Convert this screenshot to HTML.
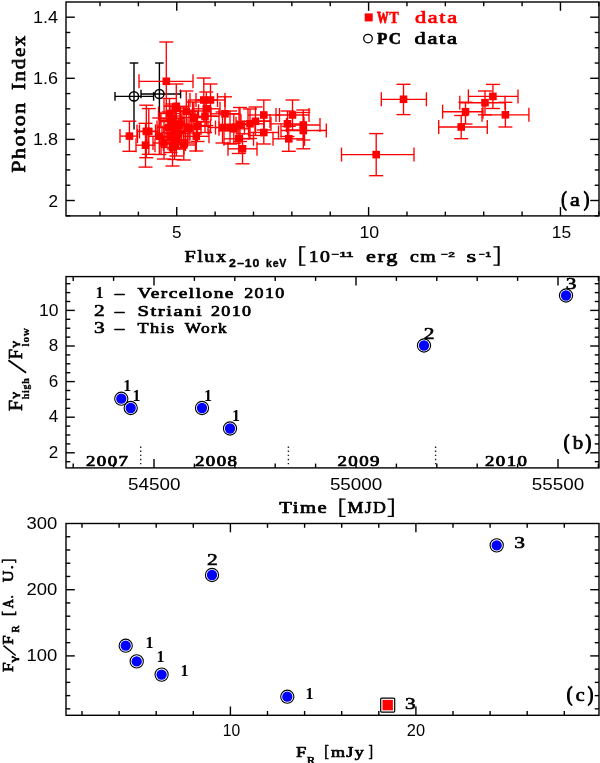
<!DOCTYPE html>
<html><head><meta charset="utf-8"><title>figure</title>
<style>
html,body{margin:0;padding:0;background:#fff;}
body{width:600px;height:763px;overflow:hidden;font-family:"Liberation Sans",sans-serif;}
svg{display:block;will-change:transform;}
</style></head>
<body>
<svg width="600" height="763" viewBox="0 0 600 763">
<rect x="0" y="0" width="600" height="763" fill="#fff"/>
<rect x="66.0" y="2.0" width="533.0" height="213.9" fill="none" stroke="#000" stroke-width="1.4"/>
<line x1="100.01" y1="215.90" x2="100.01" y2="211.60" stroke="#000" stroke-width="1.4"/>
<line x1="100.01" y1="2.00" x2="100.01" y2="6.30" stroke="#000" stroke-width="1.4"/>
<line x1="138.38" y1="215.90" x2="138.38" y2="211.60" stroke="#000" stroke-width="1.4"/>
<line x1="138.38" y1="2.00" x2="138.38" y2="6.30" stroke="#000" stroke-width="1.4"/>
<line x1="176.75" y1="215.90" x2="176.75" y2="207.10" stroke="#000" stroke-width="1.4"/>
<line x1="176.75" y1="2.00" x2="176.75" y2="10.80" stroke="#000" stroke-width="1.4"/>
<line x1="215.12" y1="215.90" x2="215.12" y2="211.60" stroke="#000" stroke-width="1.4"/>
<line x1="215.12" y1="2.00" x2="215.12" y2="6.30" stroke="#000" stroke-width="1.4"/>
<line x1="253.49" y1="215.90" x2="253.49" y2="211.60" stroke="#000" stroke-width="1.4"/>
<line x1="253.49" y1="2.00" x2="253.49" y2="6.30" stroke="#000" stroke-width="1.4"/>
<line x1="291.86" y1="215.90" x2="291.86" y2="211.60" stroke="#000" stroke-width="1.4"/>
<line x1="291.86" y1="2.00" x2="291.86" y2="6.30" stroke="#000" stroke-width="1.4"/>
<line x1="330.23" y1="215.90" x2="330.23" y2="211.60" stroke="#000" stroke-width="1.4"/>
<line x1="330.23" y1="2.00" x2="330.23" y2="6.30" stroke="#000" stroke-width="1.4"/>
<line x1="368.60" y1="215.90" x2="368.60" y2="207.10" stroke="#000" stroke-width="1.4"/>
<line x1="368.60" y1="2.00" x2="368.60" y2="10.80" stroke="#000" stroke-width="1.4"/>
<line x1="406.97" y1="215.90" x2="406.97" y2="211.60" stroke="#000" stroke-width="1.4"/>
<line x1="406.97" y1="2.00" x2="406.97" y2="6.30" stroke="#000" stroke-width="1.4"/>
<line x1="445.34" y1="215.90" x2="445.34" y2="211.60" stroke="#000" stroke-width="1.4"/>
<line x1="445.34" y1="2.00" x2="445.34" y2="6.30" stroke="#000" stroke-width="1.4"/>
<line x1="483.71" y1="215.90" x2="483.71" y2="211.60" stroke="#000" stroke-width="1.4"/>
<line x1="483.71" y1="2.00" x2="483.71" y2="6.30" stroke="#000" stroke-width="1.4"/>
<line x1="522.08" y1="215.90" x2="522.08" y2="211.60" stroke="#000" stroke-width="1.4"/>
<line x1="522.08" y1="2.00" x2="522.08" y2="6.30" stroke="#000" stroke-width="1.4"/>
<line x1="560.45" y1="215.90" x2="560.45" y2="207.10" stroke="#000" stroke-width="1.4"/>
<line x1="560.45" y1="2.00" x2="560.45" y2="10.80" stroke="#000" stroke-width="1.4"/>
<line x1="598.82" y1="215.90" x2="598.82" y2="211.60" stroke="#000" stroke-width="1.4"/>
<line x1="598.82" y1="2.00" x2="598.82" y2="6.30" stroke="#000" stroke-width="1.4"/>
<line x1="66.00" y1="17.20" x2="74.80" y2="17.20" stroke="#000" stroke-width="1.4"/>
<line x1="599.00" y1="17.20" x2="590.20" y2="17.20" stroke="#000" stroke-width="1.4"/>
<line x1="66.00" y1="32.48" x2="70.30" y2="32.48" stroke="#000" stroke-width="1.4"/>
<line x1="599.00" y1="32.48" x2="594.70" y2="32.48" stroke="#000" stroke-width="1.4"/>
<line x1="66.00" y1="47.75" x2="70.30" y2="47.75" stroke="#000" stroke-width="1.4"/>
<line x1="599.00" y1="47.75" x2="594.70" y2="47.75" stroke="#000" stroke-width="1.4"/>
<line x1="66.00" y1="63.03" x2="70.30" y2="63.03" stroke="#000" stroke-width="1.4"/>
<line x1="599.00" y1="63.03" x2="594.70" y2="63.03" stroke="#000" stroke-width="1.4"/>
<line x1="66.00" y1="78.30" x2="74.80" y2="78.30" stroke="#000" stroke-width="1.4"/>
<line x1="599.00" y1="78.30" x2="590.20" y2="78.30" stroke="#000" stroke-width="1.4"/>
<line x1="66.00" y1="93.58" x2="70.30" y2="93.58" stroke="#000" stroke-width="1.4"/>
<line x1="599.00" y1="93.58" x2="594.70" y2="93.58" stroke="#000" stroke-width="1.4"/>
<line x1="66.00" y1="108.85" x2="70.30" y2="108.85" stroke="#000" stroke-width="1.4"/>
<line x1="599.00" y1="108.85" x2="594.70" y2="108.85" stroke="#000" stroke-width="1.4"/>
<line x1="66.00" y1="124.13" x2="70.30" y2="124.13" stroke="#000" stroke-width="1.4"/>
<line x1="599.00" y1="124.13" x2="594.70" y2="124.13" stroke="#000" stroke-width="1.4"/>
<line x1="66.00" y1="139.40" x2="74.80" y2="139.40" stroke="#000" stroke-width="1.4"/>
<line x1="599.00" y1="139.40" x2="590.20" y2="139.40" stroke="#000" stroke-width="1.4"/>
<line x1="66.00" y1="154.68" x2="70.30" y2="154.68" stroke="#000" stroke-width="1.4"/>
<line x1="599.00" y1="154.68" x2="594.70" y2="154.68" stroke="#000" stroke-width="1.4"/>
<line x1="66.00" y1="169.95" x2="70.30" y2="169.95" stroke="#000" stroke-width="1.4"/>
<line x1="599.00" y1="169.95" x2="594.70" y2="169.95" stroke="#000" stroke-width="1.4"/>
<line x1="66.00" y1="185.23" x2="70.30" y2="185.23" stroke="#000" stroke-width="1.4"/>
<line x1="599.00" y1="185.23" x2="594.70" y2="185.23" stroke="#000" stroke-width="1.4"/>
<line x1="66.00" y1="200.50" x2="74.80" y2="200.50" stroke="#000" stroke-width="1.4"/>
<line x1="599.00" y1="200.50" x2="590.20" y2="200.50" stroke="#000" stroke-width="1.4"/>
<line x1="66.00" y1="215.78" x2="70.30" y2="215.78" stroke="#000" stroke-width="1.4"/>
<line x1="599.00" y1="215.78" x2="594.70" y2="215.78" stroke="#000" stroke-width="1.4"/>
<line x1="115.00" y1="96.40" x2="153.60" y2="96.40" stroke="#000" stroke-width="1.4"/>
<line x1="134.00" y1="63.00" x2="134.00" y2="129.50" stroke="#000" stroke-width="1.4"/>
<line x1="115.00" y1="92.10" x2="115.00" y2="100.70" stroke="#000" stroke-width="1.4"/>
<line x1="153.60" y1="92.10" x2="153.60" y2="100.70" stroke="#000" stroke-width="1.4"/>
<line x1="129.70" y1="63.00" x2="138.30" y2="63.00" stroke="#000" stroke-width="1.4"/>
<circle cx="134.0" cy="96.4" r="4.6" fill="none" stroke="#000" stroke-width="1.5"/>
<line x1="141.00" y1="94.00" x2="180.60" y2="94.00" stroke="#000" stroke-width="1.4"/>
<line x1="159.40" y1="63.00" x2="159.40" y2="125.00" stroke="#000" stroke-width="1.4"/>
<line x1="141.00" y1="89.70" x2="141.00" y2="98.30" stroke="#000" stroke-width="1.4"/>
<line x1="180.60" y1="89.70" x2="180.60" y2="98.30" stroke="#000" stroke-width="1.4"/>
<line x1="155.10" y1="63.00" x2="163.70" y2="63.00" stroke="#000" stroke-width="1.4"/>
<circle cx="159.4" cy="94.0" r="4.6" fill="none" stroke="#000" stroke-width="1.5"/>
<line x1="341.50" y1="154.60" x2="414.00" y2="154.60" stroke="#ff0000" stroke-width="1.35"/>
<line x1="376.20" y1="133.60" x2="376.20" y2="175.70" stroke="#ff0000" stroke-width="1.35"/>
<line x1="341.50" y1="147.60" x2="341.50" y2="161.60" stroke="#ff0000" stroke-width="1.35"/>
<line x1="414.00" y1="147.60" x2="414.00" y2="161.60" stroke="#ff0000" stroke-width="1.35"/>
<line x1="369.20" y1="133.60" x2="383.20" y2="133.60" stroke="#ff0000" stroke-width="1.35"/>
<line x1="369.20" y1="175.70" x2="383.20" y2="175.70" stroke="#ff0000" stroke-width="1.35"/>
<line x1="381.30" y1="99.30" x2="426.40" y2="99.30" stroke="#ff0000" stroke-width="1.35"/>
<line x1="403.50" y1="84.30" x2="403.50" y2="114.60" stroke="#ff0000" stroke-width="1.35"/>
<line x1="381.30" y1="92.30" x2="381.30" y2="106.30" stroke="#ff0000" stroke-width="1.35"/>
<line x1="426.40" y1="92.30" x2="426.40" y2="106.30" stroke="#ff0000" stroke-width="1.35"/>
<line x1="396.50" y1="84.30" x2="410.50" y2="84.30" stroke="#ff0000" stroke-width="1.35"/>
<line x1="396.50" y1="114.60" x2="410.50" y2="114.60" stroke="#ff0000" stroke-width="1.35"/>
<line x1="438.70" y1="127.00" x2="487.30" y2="127.00" stroke="#ff0000" stroke-width="1.35"/>
<line x1="461.20" y1="115.50" x2="461.20" y2="138.70" stroke="#ff0000" stroke-width="1.35"/>
<line x1="438.70" y1="120.00" x2="438.70" y2="134.00" stroke="#ff0000" stroke-width="1.35"/>
<line x1="487.30" y1="120.00" x2="487.30" y2="134.00" stroke="#ff0000" stroke-width="1.35"/>
<line x1="454.20" y1="115.50" x2="468.20" y2="115.50" stroke="#ff0000" stroke-width="1.35"/>
<line x1="454.20" y1="138.70" x2="468.20" y2="138.70" stroke="#ff0000" stroke-width="1.35"/>
<line x1="442.60" y1="111.70" x2="483.00" y2="111.70" stroke="#ff0000" stroke-width="1.35"/>
<line x1="465.50" y1="102.20" x2="465.50" y2="124.00" stroke="#ff0000" stroke-width="1.35"/>
<line x1="442.60" y1="104.70" x2="442.60" y2="118.70" stroke="#ff0000" stroke-width="1.35"/>
<line x1="483.00" y1="104.70" x2="483.00" y2="118.70" stroke="#ff0000" stroke-width="1.35"/>
<line x1="458.50" y1="102.20" x2="472.50" y2="102.20" stroke="#ff0000" stroke-width="1.35"/>
<line x1="458.50" y1="124.00" x2="472.50" y2="124.00" stroke="#ff0000" stroke-width="1.35"/>
<line x1="459.80" y1="102.70" x2="505.00" y2="102.70" stroke="#ff0000" stroke-width="1.35"/>
<line x1="485.00" y1="91.00" x2="485.00" y2="114.80" stroke="#ff0000" stroke-width="1.35"/>
<line x1="459.80" y1="95.70" x2="459.80" y2="109.70" stroke="#ff0000" stroke-width="1.35"/>
<line x1="505.00" y1="95.70" x2="505.00" y2="109.70" stroke="#ff0000" stroke-width="1.35"/>
<line x1="478.00" y1="91.00" x2="492.00" y2="91.00" stroke="#ff0000" stroke-width="1.35"/>
<line x1="478.00" y1="114.80" x2="492.00" y2="114.80" stroke="#ff0000" stroke-width="1.35"/>
<line x1="468.40" y1="96.40" x2="518.00" y2="96.40" stroke="#ff0000" stroke-width="1.35"/>
<line x1="492.90" y1="84.40" x2="492.90" y2="108.50" stroke="#ff0000" stroke-width="1.35"/>
<line x1="468.40" y1="89.40" x2="468.40" y2="103.40" stroke="#ff0000" stroke-width="1.35"/>
<line x1="518.00" y1="89.40" x2="518.00" y2="103.40" stroke="#ff0000" stroke-width="1.35"/>
<line x1="485.90" y1="84.40" x2="499.90" y2="84.40" stroke="#ff0000" stroke-width="1.35"/>
<line x1="485.90" y1="108.50" x2="499.90" y2="108.50" stroke="#ff0000" stroke-width="1.35"/>
<line x1="482.00" y1="114.80" x2="528.90" y2="114.80" stroke="#ff0000" stroke-width="1.35"/>
<line x1="505.40" y1="102.30" x2="505.40" y2="127.00" stroke="#ff0000" stroke-width="1.35"/>
<line x1="482.00" y1="107.80" x2="482.00" y2="121.80" stroke="#ff0000" stroke-width="1.35"/>
<line x1="528.90" y1="107.80" x2="528.90" y2="121.80" stroke="#ff0000" stroke-width="1.35"/>
<line x1="498.40" y1="102.30" x2="512.40" y2="102.30" stroke="#ff0000" stroke-width="1.35"/>
<line x1="498.40" y1="127.00" x2="512.40" y2="127.00" stroke="#ff0000" stroke-width="1.35"/>
<line x1="139.00" y1="81.30" x2="193.00" y2="81.30" stroke="#ff0000" stroke-width="1.35"/>
<line x1="166.30" y1="42.00" x2="166.30" y2="120.50" stroke="#ff0000" stroke-width="1.35"/>
<line x1="139.00" y1="74.30" x2="139.00" y2="88.30" stroke="#ff0000" stroke-width="1.35"/>
<line x1="193.00" y1="74.30" x2="193.00" y2="88.30" stroke="#ff0000" stroke-width="1.35"/>
<line x1="159.30" y1="42.00" x2="173.30" y2="42.00" stroke="#ff0000" stroke-width="1.35"/>
<line x1="159.30" y1="120.50" x2="173.30" y2="120.50" stroke="#ff0000" stroke-width="1.35"/>
<line x1="120.00" y1="136.10" x2="137.50" y2="136.10" stroke="#ff0000" stroke-width="1.35"/>
<line x1="129.40" y1="121.20" x2="129.40" y2="151.30" stroke="#ff0000" stroke-width="1.35"/>
<line x1="120.00" y1="129.10" x2="120.00" y2="143.10" stroke="#ff0000" stroke-width="1.35"/>
<line x1="137.50" y1="129.10" x2="137.50" y2="143.10" stroke="#ff0000" stroke-width="1.35"/>
<line x1="122.40" y1="121.20" x2="136.40" y2="121.20" stroke="#ff0000" stroke-width="1.35"/>
<line x1="122.40" y1="151.30" x2="136.40" y2="151.30" stroke="#ff0000" stroke-width="1.35"/>
<line x1="137.00" y1="131.40" x2="155.50" y2="131.40" stroke="#ff0000" stroke-width="1.35"/>
<line x1="146.30" y1="105.20" x2="146.30" y2="157.70" stroke="#ff0000" stroke-width="1.35"/>
<line x1="137.00" y1="124.40" x2="137.00" y2="138.40" stroke="#ff0000" stroke-width="1.35"/>
<line x1="155.50" y1="124.40" x2="155.50" y2="138.40" stroke="#ff0000" stroke-width="1.35"/>
<line x1="139.30" y1="105.20" x2="153.30" y2="105.20" stroke="#ff0000" stroke-width="1.35"/>
<line x1="139.30" y1="157.70" x2="153.30" y2="157.70" stroke="#ff0000" stroke-width="1.35"/>
<line x1="139.50" y1="131.40" x2="158.00" y2="131.40" stroke="#ff0000" stroke-width="1.35"/>
<line x1="148.80" y1="108.60" x2="148.80" y2="154.30" stroke="#ff0000" stroke-width="1.35"/>
<line x1="139.50" y1="124.40" x2="139.50" y2="138.40" stroke="#ff0000" stroke-width="1.35"/>
<line x1="158.00" y1="124.40" x2="158.00" y2="138.40" stroke="#ff0000" stroke-width="1.35"/>
<line x1="141.80" y1="108.60" x2="155.80" y2="108.60" stroke="#ff0000" stroke-width="1.35"/>
<line x1="141.80" y1="154.30" x2="155.80" y2="154.30" stroke="#ff0000" stroke-width="1.35"/>
<line x1="136.00" y1="145.20" x2="155.00" y2="145.20" stroke="#ff0000" stroke-width="1.35"/>
<line x1="145.50" y1="123.30" x2="145.50" y2="167.10" stroke="#ff0000" stroke-width="1.35"/>
<line x1="136.00" y1="138.20" x2="136.00" y2="152.20" stroke="#ff0000" stroke-width="1.35"/>
<line x1="155.00" y1="138.20" x2="155.00" y2="152.20" stroke="#ff0000" stroke-width="1.35"/>
<line x1="138.50" y1="123.30" x2="152.50" y2="123.30" stroke="#ff0000" stroke-width="1.35"/>
<line x1="138.50" y1="167.10" x2="152.50" y2="167.10" stroke="#ff0000" stroke-width="1.35"/>
<line x1="148.00" y1="136.30" x2="170.50" y2="136.30" stroke="#ff0000" stroke-width="1.35"/>
<line x1="159.30" y1="118.00" x2="159.30" y2="154.50" stroke="#ff0000" stroke-width="1.35"/>
<line x1="148.00" y1="129.30" x2="148.00" y2="143.30" stroke="#ff0000" stroke-width="1.35"/>
<line x1="170.50" y1="129.30" x2="170.50" y2="143.30" stroke="#ff0000" stroke-width="1.35"/>
<line x1="152.30" y1="118.00" x2="166.30" y2="118.00" stroke="#ff0000" stroke-width="1.35"/>
<line x1="152.30" y1="154.50" x2="166.30" y2="154.50" stroke="#ff0000" stroke-width="1.35"/>
<line x1="161.00" y1="118.80" x2="184.00" y2="118.80" stroke="#ff0000" stroke-width="1.35"/>
<line x1="172.50" y1="104.00" x2="172.50" y2="133.50" stroke="#ff0000" stroke-width="1.35"/>
<line x1="161.00" y1="111.80" x2="161.00" y2="125.80" stroke="#ff0000" stroke-width="1.35"/>
<line x1="184.00" y1="111.80" x2="184.00" y2="125.80" stroke="#ff0000" stroke-width="1.35"/>
<line x1="165.50" y1="104.00" x2="179.50" y2="104.00" stroke="#ff0000" stroke-width="1.35"/>
<line x1="165.50" y1="133.50" x2="179.50" y2="133.50" stroke="#ff0000" stroke-width="1.35"/>
<line x1="157.00" y1="127.50" x2="180.50" y2="127.50" stroke="#ff0000" stroke-width="1.35"/>
<line x1="168.80" y1="112.00" x2="168.80" y2="143.00" stroke="#ff0000" stroke-width="1.35"/>
<line x1="157.00" y1="120.50" x2="157.00" y2="134.50" stroke="#ff0000" stroke-width="1.35"/>
<line x1="180.50" y1="120.50" x2="180.50" y2="134.50" stroke="#ff0000" stroke-width="1.35"/>
<line x1="161.80" y1="112.00" x2="175.80" y2="112.00" stroke="#ff0000" stroke-width="1.35"/>
<line x1="161.80" y1="143.00" x2="175.80" y2="143.00" stroke="#ff0000" stroke-width="1.35"/>
<line x1="162.00" y1="132.50" x2="185.50" y2="132.50" stroke="#ff0000" stroke-width="1.35"/>
<line x1="173.80" y1="116.00" x2="173.80" y2="149.00" stroke="#ff0000" stroke-width="1.35"/>
<line x1="162.00" y1="125.50" x2="162.00" y2="139.50" stroke="#ff0000" stroke-width="1.35"/>
<line x1="185.50" y1="125.50" x2="185.50" y2="139.50" stroke="#ff0000" stroke-width="1.35"/>
<line x1="166.80" y1="116.00" x2="180.80" y2="116.00" stroke="#ff0000" stroke-width="1.35"/>
<line x1="166.80" y1="149.00" x2="180.80" y2="149.00" stroke="#ff0000" stroke-width="1.35"/>
<line x1="161.00" y1="147.50" x2="184.00" y2="147.50" stroke="#ff0000" stroke-width="1.35"/>
<line x1="172.50" y1="129.00" x2="172.50" y2="166.00" stroke="#ff0000" stroke-width="1.35"/>
<line x1="161.00" y1="140.50" x2="161.00" y2="154.50" stroke="#ff0000" stroke-width="1.35"/>
<line x1="184.00" y1="140.50" x2="184.00" y2="154.50" stroke="#ff0000" stroke-width="1.35"/>
<line x1="165.50" y1="129.00" x2="179.50" y2="129.00" stroke="#ff0000" stroke-width="1.35"/>
<line x1="165.50" y1="166.00" x2="179.50" y2="166.00" stroke="#ff0000" stroke-width="1.35"/>
<line x1="165.00" y1="140.00" x2="187.50" y2="140.00" stroke="#ff0000" stroke-width="1.35"/>
<line x1="176.30" y1="124.00" x2="176.30" y2="156.00" stroke="#ff0000" stroke-width="1.35"/>
<line x1="165.00" y1="133.00" x2="165.00" y2="147.00" stroke="#ff0000" stroke-width="1.35"/>
<line x1="187.50" y1="133.00" x2="187.50" y2="147.00" stroke="#ff0000" stroke-width="1.35"/>
<line x1="169.30" y1="124.00" x2="183.30" y2="124.00" stroke="#ff0000" stroke-width="1.35"/>
<line x1="169.30" y1="156.00" x2="183.30" y2="156.00" stroke="#ff0000" stroke-width="1.35"/>
<line x1="172.00" y1="145.00" x2="195.50" y2="145.00" stroke="#ff0000" stroke-width="1.35"/>
<line x1="183.80" y1="130.00" x2="183.80" y2="160.00" stroke="#ff0000" stroke-width="1.35"/>
<line x1="172.00" y1="138.00" x2="172.00" y2="152.00" stroke="#ff0000" stroke-width="1.35"/>
<line x1="195.50" y1="138.00" x2="195.50" y2="152.00" stroke="#ff0000" stroke-width="1.35"/>
<line x1="176.80" y1="130.00" x2="190.80" y2="130.00" stroke="#ff0000" stroke-width="1.35"/>
<line x1="176.80" y1="160.00" x2="190.80" y2="160.00" stroke="#ff0000" stroke-width="1.35"/>
<line x1="174.00" y1="111.30" x2="198.50" y2="111.30" stroke="#ff0000" stroke-width="1.35"/>
<line x1="186.30" y1="91.00" x2="186.30" y2="131.50" stroke="#ff0000" stroke-width="1.35"/>
<line x1="174.00" y1="104.30" x2="174.00" y2="118.30" stroke="#ff0000" stroke-width="1.35"/>
<line x1="198.50" y1="104.30" x2="198.50" y2="118.30" stroke="#ff0000" stroke-width="1.35"/>
<line x1="179.30" y1="91.00" x2="193.30" y2="91.00" stroke="#ff0000" stroke-width="1.35"/>
<line x1="179.30" y1="131.50" x2="193.30" y2="131.50" stroke="#ff0000" stroke-width="1.35"/>
<line x1="181.00" y1="117.50" x2="206.50" y2="117.50" stroke="#ff0000" stroke-width="1.35"/>
<line x1="193.80" y1="102.00" x2="193.80" y2="133.00" stroke="#ff0000" stroke-width="1.35"/>
<line x1="181.00" y1="110.50" x2="181.00" y2="124.50" stroke="#ff0000" stroke-width="1.35"/>
<line x1="206.50" y1="110.50" x2="206.50" y2="124.50" stroke="#ff0000" stroke-width="1.35"/>
<line x1="186.80" y1="102.00" x2="200.80" y2="102.00" stroke="#ff0000" stroke-width="1.35"/>
<line x1="186.80" y1="133.00" x2="200.80" y2="133.00" stroke="#ff0000" stroke-width="1.35"/>
<line x1="183.50" y1="136.30" x2="209.00" y2="136.30" stroke="#ff0000" stroke-width="1.35"/>
<line x1="196.30" y1="121.50" x2="196.30" y2="151.00" stroke="#ff0000" stroke-width="1.35"/>
<line x1="183.50" y1="129.30" x2="183.50" y2="143.30" stroke="#ff0000" stroke-width="1.35"/>
<line x1="209.00" y1="129.30" x2="209.00" y2="143.30" stroke="#ff0000" stroke-width="1.35"/>
<line x1="189.30" y1="121.50" x2="203.30" y2="121.50" stroke="#ff0000" stroke-width="1.35"/>
<line x1="189.30" y1="151.00" x2="203.30" y2="151.00" stroke="#ff0000" stroke-width="1.35"/>
<line x1="184.50" y1="126.30" x2="210.50" y2="126.30" stroke="#ff0000" stroke-width="1.35"/>
<line x1="197.50" y1="111.00" x2="197.50" y2="141.50" stroke="#ff0000" stroke-width="1.35"/>
<line x1="184.50" y1="119.30" x2="184.50" y2="133.30" stroke="#ff0000" stroke-width="1.35"/>
<line x1="210.50" y1="119.30" x2="210.50" y2="133.30" stroke="#ff0000" stroke-width="1.35"/>
<line x1="190.50" y1="111.00" x2="204.50" y2="111.00" stroke="#ff0000" stroke-width="1.35"/>
<line x1="190.50" y1="141.50" x2="204.50" y2="141.50" stroke="#ff0000" stroke-width="1.35"/>
<line x1="190.00" y1="100.00" x2="217.50" y2="100.00" stroke="#ff0000" stroke-width="1.35"/>
<line x1="203.80" y1="78.00" x2="203.80" y2="122.00" stroke="#ff0000" stroke-width="1.35"/>
<line x1="190.00" y1="93.00" x2="190.00" y2="107.00" stroke="#ff0000" stroke-width="1.35"/>
<line x1="217.50" y1="93.00" x2="217.50" y2="107.00" stroke="#ff0000" stroke-width="1.35"/>
<line x1="196.80" y1="78.00" x2="210.80" y2="78.00" stroke="#ff0000" stroke-width="1.35"/>
<line x1="196.80" y1="122.00" x2="210.80" y2="122.00" stroke="#ff0000" stroke-width="1.35"/>
<line x1="196.00" y1="100.00" x2="225.00" y2="100.00" stroke="#ff0000" stroke-width="1.35"/>
<line x1="210.50" y1="84.00" x2="210.50" y2="116.00" stroke="#ff0000" stroke-width="1.35"/>
<line x1="196.00" y1="93.00" x2="196.00" y2="107.00" stroke="#ff0000" stroke-width="1.35"/>
<line x1="225.00" y1="93.00" x2="225.00" y2="107.00" stroke="#ff0000" stroke-width="1.35"/>
<line x1="203.50" y1="84.00" x2="217.50" y2="84.00" stroke="#ff0000" stroke-width="1.35"/>
<line x1="203.50" y1="116.00" x2="217.50" y2="116.00" stroke="#ff0000" stroke-width="1.35"/>
<line x1="192.50" y1="108.80" x2="220.00" y2="108.80" stroke="#ff0000" stroke-width="1.35"/>
<line x1="206.30" y1="92.00" x2="206.30" y2="125.50" stroke="#ff0000" stroke-width="1.35"/>
<line x1="192.50" y1="101.80" x2="192.50" y2="115.80" stroke="#ff0000" stroke-width="1.35"/>
<line x1="220.00" y1="101.80" x2="220.00" y2="115.80" stroke="#ff0000" stroke-width="1.35"/>
<line x1="199.30" y1="92.00" x2="213.30" y2="92.00" stroke="#ff0000" stroke-width="1.35"/>
<line x1="199.30" y1="125.50" x2="213.30" y2="125.50" stroke="#ff0000" stroke-width="1.35"/>
<line x1="191.00" y1="116.30" x2="219.00" y2="116.30" stroke="#ff0000" stroke-width="1.35"/>
<line x1="205.00" y1="100.00" x2="205.00" y2="132.50" stroke="#ff0000" stroke-width="1.35"/>
<line x1="191.00" y1="109.30" x2="191.00" y2="123.30" stroke="#ff0000" stroke-width="1.35"/>
<line x1="219.00" y1="109.30" x2="219.00" y2="123.30" stroke="#ff0000" stroke-width="1.35"/>
<line x1="198.00" y1="100.00" x2="212.00" y2="100.00" stroke="#ff0000" stroke-width="1.35"/>
<line x1="198.00" y1="132.50" x2="212.00" y2="132.50" stroke="#ff0000" stroke-width="1.35"/>
<line x1="164.00" y1="106.30" x2="188.50" y2="106.30" stroke="#ff0000" stroke-width="1.35"/>
<line x1="176.30" y1="84.00" x2="176.30" y2="128.50" stroke="#ff0000" stroke-width="1.35"/>
<line x1="164.00" y1="99.30" x2="164.00" y2="113.30" stroke="#ff0000" stroke-width="1.35"/>
<line x1="188.50" y1="99.30" x2="188.50" y2="113.30" stroke="#ff0000" stroke-width="1.35"/>
<line x1="169.30" y1="84.00" x2="183.30" y2="84.00" stroke="#ff0000" stroke-width="1.35"/>
<line x1="169.30" y1="128.50" x2="183.30" y2="128.50" stroke="#ff0000" stroke-width="1.35"/>
<line x1="168.00" y1="124.00" x2="192.00" y2="124.00" stroke="#ff0000" stroke-width="1.35"/>
<line x1="180.00" y1="108.00" x2="180.00" y2="140.00" stroke="#ff0000" stroke-width="1.35"/>
<line x1="168.00" y1="117.00" x2="168.00" y2="131.00" stroke="#ff0000" stroke-width="1.35"/>
<line x1="192.00" y1="117.00" x2="192.00" y2="131.00" stroke="#ff0000" stroke-width="1.35"/>
<line x1="173.00" y1="108.00" x2="187.00" y2="108.00" stroke="#ff0000" stroke-width="1.35"/>
<line x1="173.00" y1="140.00" x2="187.00" y2="140.00" stroke="#ff0000" stroke-width="1.35"/>
<line x1="153.00" y1="143.00" x2="175.00" y2="143.00" stroke="#ff0000" stroke-width="1.35"/>
<line x1="164.00" y1="127.00" x2="164.00" y2="159.00" stroke="#ff0000" stroke-width="1.35"/>
<line x1="153.00" y1="136.00" x2="153.00" y2="150.00" stroke="#ff0000" stroke-width="1.35"/>
<line x1="175.00" y1="136.00" x2="175.00" y2="150.00" stroke="#ff0000" stroke-width="1.35"/>
<line x1="157.00" y1="127.00" x2="171.00" y2="127.00" stroke="#ff0000" stroke-width="1.35"/>
<line x1="157.00" y1="159.00" x2="171.00" y2="159.00" stroke="#ff0000" stroke-width="1.35"/>
<line x1="177.00" y1="128.00" x2="201.00" y2="128.00" stroke="#ff0000" stroke-width="1.35"/>
<line x1="189.00" y1="113.00" x2="189.00" y2="143.00" stroke="#ff0000" stroke-width="1.35"/>
<line x1="177.00" y1="121.00" x2="177.00" y2="135.00" stroke="#ff0000" stroke-width="1.35"/>
<line x1="201.00" y1="121.00" x2="201.00" y2="135.00" stroke="#ff0000" stroke-width="1.35"/>
<line x1="182.00" y1="113.00" x2="196.00" y2="113.00" stroke="#ff0000" stroke-width="1.35"/>
<line x1="182.00" y1="143.00" x2="196.00" y2="143.00" stroke="#ff0000" stroke-width="1.35"/>
<line x1="160.00" y1="121.50" x2="182.00" y2="121.50" stroke="#ff0000" stroke-width="1.35"/>
<line x1="171.00" y1="106.00" x2="171.00" y2="137.00" stroke="#ff0000" stroke-width="1.35"/>
<line x1="160.00" y1="114.50" x2="160.00" y2="128.50" stroke="#ff0000" stroke-width="1.35"/>
<line x1="182.00" y1="114.50" x2="182.00" y2="128.50" stroke="#ff0000" stroke-width="1.35"/>
<line x1="164.00" y1="106.00" x2="178.00" y2="106.00" stroke="#ff0000" stroke-width="1.35"/>
<line x1="164.00" y1="137.00" x2="178.00" y2="137.00" stroke="#ff0000" stroke-width="1.35"/>
<line x1="164.00" y1="125.50" x2="187.00" y2="125.50" stroke="#ff0000" stroke-width="1.35"/>
<line x1="175.50" y1="110.50" x2="175.50" y2="140.50" stroke="#ff0000" stroke-width="1.35"/>
<line x1="164.00" y1="118.50" x2="164.00" y2="132.50" stroke="#ff0000" stroke-width="1.35"/>
<line x1="187.00" y1="118.50" x2="187.00" y2="132.50" stroke="#ff0000" stroke-width="1.35"/>
<line x1="168.50" y1="110.50" x2="182.50" y2="110.50" stroke="#ff0000" stroke-width="1.35"/>
<line x1="168.50" y1="140.50" x2="182.50" y2="140.50" stroke="#ff0000" stroke-width="1.35"/>
<line x1="159.50" y1="137.00" x2="181.50" y2="137.00" stroke="#ff0000" stroke-width="1.35"/>
<line x1="170.50" y1="121.50" x2="170.50" y2="152.50" stroke="#ff0000" stroke-width="1.35"/>
<line x1="159.50" y1="130.00" x2="159.50" y2="144.00" stroke="#ff0000" stroke-width="1.35"/>
<line x1="181.50" y1="130.00" x2="181.50" y2="144.00" stroke="#ff0000" stroke-width="1.35"/>
<line x1="163.50" y1="121.50" x2="177.50" y2="121.50" stroke="#ff0000" stroke-width="1.35"/>
<line x1="163.50" y1="152.50" x2="177.50" y2="152.50" stroke="#ff0000" stroke-width="1.35"/>
<line x1="163.50" y1="144.00" x2="185.50" y2="144.00" stroke="#ff0000" stroke-width="1.35"/>
<line x1="174.50" y1="128.50" x2="174.50" y2="159.50" stroke="#ff0000" stroke-width="1.35"/>
<line x1="163.50" y1="137.00" x2="163.50" y2="151.00" stroke="#ff0000" stroke-width="1.35"/>
<line x1="185.50" y1="137.00" x2="185.50" y2="151.00" stroke="#ff0000" stroke-width="1.35"/>
<line x1="167.50" y1="128.50" x2="181.50" y2="128.50" stroke="#ff0000" stroke-width="1.35"/>
<line x1="167.50" y1="159.50" x2="181.50" y2="159.50" stroke="#ff0000" stroke-width="1.35"/>
<line x1="167.00" y1="133.50" x2="190.00" y2="133.50" stroke="#ff0000" stroke-width="1.35"/>
<line x1="178.50" y1="118.00" x2="178.50" y2="149.00" stroke="#ff0000" stroke-width="1.35"/>
<line x1="167.00" y1="126.50" x2="167.00" y2="140.50" stroke="#ff0000" stroke-width="1.35"/>
<line x1="190.00" y1="126.50" x2="190.00" y2="140.50" stroke="#ff0000" stroke-width="1.35"/>
<line x1="171.50" y1="118.00" x2="185.50" y2="118.00" stroke="#ff0000" stroke-width="1.35"/>
<line x1="171.50" y1="149.00" x2="185.50" y2="149.00" stroke="#ff0000" stroke-width="1.35"/>
<line x1="158.50" y1="113.50" x2="180.50" y2="113.50" stroke="#ff0000" stroke-width="1.35"/>
<line x1="169.50" y1="98.50" x2="169.50" y2="128.50" stroke="#ff0000" stroke-width="1.35"/>
<line x1="158.50" y1="106.50" x2="158.50" y2="120.50" stroke="#ff0000" stroke-width="1.35"/>
<line x1="180.50" y1="106.50" x2="180.50" y2="120.50" stroke="#ff0000" stroke-width="1.35"/>
<line x1="162.50" y1="98.50" x2="176.50" y2="98.50" stroke="#ff0000" stroke-width="1.35"/>
<line x1="162.50" y1="128.50" x2="176.50" y2="128.50" stroke="#ff0000" stroke-width="1.35"/>
<line x1="211.00" y1="113.80" x2="239.00" y2="113.80" stroke="#ff0000" stroke-width="1.35"/>
<line x1="225.00" y1="96.80" x2="225.00" y2="130.80" stroke="#ff0000" stroke-width="1.35"/>
<line x1="211.00" y1="106.80" x2="211.00" y2="120.80" stroke="#ff0000" stroke-width="1.35"/>
<line x1="239.00" y1="106.80" x2="239.00" y2="120.80" stroke="#ff0000" stroke-width="1.35"/>
<line x1="218.00" y1="96.80" x2="232.00" y2="96.80" stroke="#ff0000" stroke-width="1.35"/>
<line x1="218.00" y1="130.80" x2="232.00" y2="130.80" stroke="#ff0000" stroke-width="1.35"/>
<line x1="208.00" y1="127.50" x2="237.00" y2="127.50" stroke="#ff0000" stroke-width="1.35"/>
<line x1="222.50" y1="112.00" x2="222.50" y2="143.00" stroke="#ff0000" stroke-width="1.35"/>
<line x1="208.00" y1="120.50" x2="208.00" y2="134.50" stroke="#ff0000" stroke-width="1.35"/>
<line x1="237.00" y1="120.50" x2="237.00" y2="134.50" stroke="#ff0000" stroke-width="1.35"/>
<line x1="215.50" y1="112.00" x2="229.50" y2="112.00" stroke="#ff0000" stroke-width="1.35"/>
<line x1="215.50" y1="143.00" x2="229.50" y2="143.00" stroke="#ff0000" stroke-width="1.35"/>
<line x1="215.50" y1="127.50" x2="244.50" y2="127.50" stroke="#ff0000" stroke-width="1.35"/>
<line x1="230.00" y1="111.00" x2="230.00" y2="144.00" stroke="#ff0000" stroke-width="1.35"/>
<line x1="215.50" y1="120.50" x2="215.50" y2="134.50" stroke="#ff0000" stroke-width="1.35"/>
<line x1="244.50" y1="120.50" x2="244.50" y2="134.50" stroke="#ff0000" stroke-width="1.35"/>
<line x1="223.00" y1="111.00" x2="237.00" y2="111.00" stroke="#ff0000" stroke-width="1.35"/>
<line x1="223.00" y1="144.00" x2="237.00" y2="144.00" stroke="#ff0000" stroke-width="1.35"/>
<line x1="219.00" y1="128.80" x2="248.50" y2="128.80" stroke="#ff0000" stroke-width="1.35"/>
<line x1="233.80" y1="114.00" x2="233.80" y2="143.50" stroke="#ff0000" stroke-width="1.35"/>
<line x1="219.00" y1="121.80" x2="219.00" y2="135.80" stroke="#ff0000" stroke-width="1.35"/>
<line x1="248.50" y1="121.80" x2="248.50" y2="135.80" stroke="#ff0000" stroke-width="1.35"/>
<line x1="226.80" y1="114.00" x2="240.80" y2="114.00" stroke="#ff0000" stroke-width="1.35"/>
<line x1="226.80" y1="143.50" x2="240.80" y2="143.50" stroke="#ff0000" stroke-width="1.35"/>
<line x1="225.00" y1="124.50" x2="255.00" y2="124.50" stroke="#ff0000" stroke-width="1.35"/>
<line x1="240.00" y1="107.50" x2="240.00" y2="141.50" stroke="#ff0000" stroke-width="1.35"/>
<line x1="225.00" y1="117.50" x2="225.00" y2="131.50" stroke="#ff0000" stroke-width="1.35"/>
<line x1="255.00" y1="117.50" x2="255.00" y2="131.50" stroke="#ff0000" stroke-width="1.35"/>
<line x1="233.00" y1="107.50" x2="247.00" y2="107.50" stroke="#ff0000" stroke-width="1.35"/>
<line x1="233.00" y1="141.50" x2="247.00" y2="141.50" stroke="#ff0000" stroke-width="1.35"/>
<line x1="224.00" y1="138.80" x2="253.50" y2="138.80" stroke="#ff0000" stroke-width="1.35"/>
<line x1="238.80" y1="124.00" x2="238.80" y2="153.50" stroke="#ff0000" stroke-width="1.35"/>
<line x1="224.00" y1="131.80" x2="224.00" y2="145.80" stroke="#ff0000" stroke-width="1.35"/>
<line x1="253.50" y1="131.80" x2="253.50" y2="145.80" stroke="#ff0000" stroke-width="1.35"/>
<line x1="231.80" y1="124.00" x2="245.80" y2="124.00" stroke="#ff0000" stroke-width="1.35"/>
<line x1="231.80" y1="153.50" x2="245.80" y2="153.50" stroke="#ff0000" stroke-width="1.35"/>
<line x1="228.00" y1="148.80" x2="257.00" y2="148.80" stroke="#ff0000" stroke-width="1.35"/>
<line x1="242.50" y1="133.80" x2="242.50" y2="163.80" stroke="#ff0000" stroke-width="1.35"/>
<line x1="228.00" y1="141.80" x2="228.00" y2="155.80" stroke="#ff0000" stroke-width="1.35"/>
<line x1="257.00" y1="141.80" x2="257.00" y2="155.80" stroke="#ff0000" stroke-width="1.35"/>
<line x1="235.50" y1="133.80" x2="249.50" y2="133.80" stroke="#ff0000" stroke-width="1.35"/>
<line x1="235.50" y1="163.80" x2="249.50" y2="163.80" stroke="#ff0000" stroke-width="1.35"/>
<line x1="236.00" y1="123.80" x2="264.00" y2="123.80" stroke="#ff0000" stroke-width="1.35"/>
<line x1="250.00" y1="109.00" x2="250.00" y2="138.50" stroke="#ff0000" stroke-width="1.35"/>
<line x1="236.00" y1="116.80" x2="236.00" y2="130.80" stroke="#ff0000" stroke-width="1.35"/>
<line x1="264.00" y1="116.80" x2="264.00" y2="130.80" stroke="#ff0000" stroke-width="1.35"/>
<line x1="243.00" y1="109.00" x2="257.00" y2="109.00" stroke="#ff0000" stroke-width="1.35"/>
<line x1="243.00" y1="138.50" x2="257.00" y2="138.50" stroke="#ff0000" stroke-width="1.35"/>
<line x1="241.00" y1="121.30" x2="270.00" y2="121.30" stroke="#ff0000" stroke-width="1.35"/>
<line x1="255.50" y1="107.00" x2="255.50" y2="135.50" stroke="#ff0000" stroke-width="1.35"/>
<line x1="241.00" y1="114.30" x2="241.00" y2="128.30" stroke="#ff0000" stroke-width="1.35"/>
<line x1="270.00" y1="114.30" x2="270.00" y2="128.30" stroke="#ff0000" stroke-width="1.35"/>
<line x1="248.50" y1="107.00" x2="262.50" y2="107.00" stroke="#ff0000" stroke-width="1.35"/>
<line x1="248.50" y1="135.50" x2="262.50" y2="135.50" stroke="#ff0000" stroke-width="1.35"/>
<line x1="248.00" y1="115.00" x2="279.50" y2="115.00" stroke="#ff0000" stroke-width="1.35"/>
<line x1="263.80" y1="100.00" x2="263.80" y2="130.00" stroke="#ff0000" stroke-width="1.35"/>
<line x1="248.00" y1="108.00" x2="248.00" y2="122.00" stroke="#ff0000" stroke-width="1.35"/>
<line x1="279.50" y1="108.00" x2="279.50" y2="122.00" stroke="#ff0000" stroke-width="1.35"/>
<line x1="256.80" y1="100.00" x2="270.80" y2="100.00" stroke="#ff0000" stroke-width="1.35"/>
<line x1="256.80" y1="130.00" x2="270.80" y2="130.00" stroke="#ff0000" stroke-width="1.35"/>
<line x1="249.00" y1="132.50" x2="278.50" y2="132.50" stroke="#ff0000" stroke-width="1.35"/>
<line x1="263.80" y1="121.00" x2="263.80" y2="144.00" stroke="#ff0000" stroke-width="1.35"/>
<line x1="249.00" y1="125.50" x2="249.00" y2="139.50" stroke="#ff0000" stroke-width="1.35"/>
<line x1="278.50" y1="125.50" x2="278.50" y2="139.50" stroke="#ff0000" stroke-width="1.35"/>
<line x1="256.80" y1="121.00" x2="270.80" y2="121.00" stroke="#ff0000" stroke-width="1.35"/>
<line x1="256.80" y1="144.00" x2="270.80" y2="144.00" stroke="#ff0000" stroke-width="1.35"/>
<line x1="271.00" y1="123.80" x2="304.00" y2="123.80" stroke="#ff0000" stroke-width="1.35"/>
<line x1="287.50" y1="111.00" x2="287.50" y2="136.50" stroke="#ff0000" stroke-width="1.35"/>
<line x1="271.00" y1="116.80" x2="271.00" y2="130.80" stroke="#ff0000" stroke-width="1.35"/>
<line x1="304.00" y1="116.80" x2="304.00" y2="130.80" stroke="#ff0000" stroke-width="1.35"/>
<line x1="280.50" y1="111.00" x2="294.50" y2="111.00" stroke="#ff0000" stroke-width="1.35"/>
<line x1="280.50" y1="136.50" x2="294.50" y2="136.50" stroke="#ff0000" stroke-width="1.35"/>
<line x1="276.00" y1="115.00" x2="309.00" y2="115.00" stroke="#ff0000" stroke-width="1.35"/>
<line x1="292.50" y1="100.00" x2="292.50" y2="130.00" stroke="#ff0000" stroke-width="1.35"/>
<line x1="276.00" y1="108.00" x2="276.00" y2="122.00" stroke="#ff0000" stroke-width="1.35"/>
<line x1="309.00" y1="108.00" x2="309.00" y2="122.00" stroke="#ff0000" stroke-width="1.35"/>
<line x1="285.50" y1="100.00" x2="299.50" y2="100.00" stroke="#ff0000" stroke-width="1.35"/>
<line x1="285.50" y1="130.00" x2="299.50" y2="130.00" stroke="#ff0000" stroke-width="1.35"/>
<line x1="273.00" y1="138.80" x2="304.50" y2="138.80" stroke="#ff0000" stroke-width="1.35"/>
<line x1="288.80" y1="126.30" x2="288.80" y2="151.30" stroke="#ff0000" stroke-width="1.35"/>
<line x1="273.00" y1="131.80" x2="273.00" y2="145.80" stroke="#ff0000" stroke-width="1.35"/>
<line x1="304.50" y1="131.80" x2="304.50" y2="145.80" stroke="#ff0000" stroke-width="1.35"/>
<line x1="281.80" y1="126.30" x2="295.80" y2="126.30" stroke="#ff0000" stroke-width="1.35"/>
<line x1="281.80" y1="151.30" x2="295.80" y2="151.30" stroke="#ff0000" stroke-width="1.35"/>
<line x1="286.50" y1="125.00" x2="320.00" y2="125.00" stroke="#ff0000" stroke-width="1.35"/>
<line x1="303.30" y1="110.00" x2="303.30" y2="140.00" stroke="#ff0000" stroke-width="1.35"/>
<line x1="286.50" y1="118.00" x2="286.50" y2="132.00" stroke="#ff0000" stroke-width="1.35"/>
<line x1="320.00" y1="118.00" x2="320.00" y2="132.00" stroke="#ff0000" stroke-width="1.35"/>
<line x1="296.30" y1="110.00" x2="310.30" y2="110.00" stroke="#ff0000" stroke-width="1.35"/>
<line x1="296.30" y1="140.00" x2="310.30" y2="140.00" stroke="#ff0000" stroke-width="1.35"/>
<line x1="281.00" y1="130.50" x2="326.30" y2="130.50" stroke="#ff0000" stroke-width="1.35"/>
<line x1="303.30" y1="112.50" x2="303.30" y2="148.80" stroke="#ff0000" stroke-width="1.35"/>
<line x1="281.00" y1="123.50" x2="281.00" y2="137.50" stroke="#ff0000" stroke-width="1.35"/>
<line x1="326.30" y1="123.50" x2="326.30" y2="137.50" stroke="#ff0000" stroke-width="1.35"/>
<line x1="296.30" y1="112.50" x2="310.30" y2="112.50" stroke="#ff0000" stroke-width="1.35"/>
<line x1="296.30" y1="148.80" x2="310.30" y2="148.80" stroke="#ff0000" stroke-width="1.35"/>
<rect x="372.40" y="150.80" width="7.6" height="7.6" fill="#ff0000"/>
<rect x="399.70" y="95.50" width="7.6" height="7.6" fill="#ff0000"/>
<rect x="457.40" y="123.20" width="7.6" height="7.6" fill="#ff0000"/>
<rect x="461.70" y="107.90" width="7.6" height="7.6" fill="#ff0000"/>
<rect x="481.20" y="98.90" width="7.6" height="7.6" fill="#ff0000"/>
<rect x="489.10" y="92.60" width="7.6" height="7.6" fill="#ff0000"/>
<rect x="501.60" y="111.00" width="7.6" height="7.6" fill="#ff0000"/>
<rect x="162.50" y="77.50" width="7.6" height="7.6" fill="#ff0000"/>
<rect x="125.60" y="132.30" width="7.6" height="7.6" fill="#ff0000"/>
<rect x="142.50" y="127.60" width="7.6" height="7.6" fill="#ff0000"/>
<rect x="145.00" y="127.60" width="7.6" height="7.6" fill="#ff0000"/>
<rect x="141.70" y="141.40" width="7.6" height="7.6" fill="#ff0000"/>
<rect x="155.50" y="132.50" width="7.6" height="7.6" fill="#ff0000"/>
<rect x="168.70" y="115.00" width="7.6" height="7.6" fill="#ff0000"/>
<rect x="165.00" y="123.70" width="7.6" height="7.6" fill="#ff0000"/>
<rect x="170.00" y="128.70" width="7.6" height="7.6" fill="#ff0000"/>
<rect x="168.70" y="143.70" width="7.6" height="7.6" fill="#ff0000"/>
<rect x="172.50" y="136.20" width="7.6" height="7.6" fill="#ff0000"/>
<rect x="180.00" y="141.20" width="7.6" height="7.6" fill="#ff0000"/>
<rect x="182.50" y="107.50" width="7.6" height="7.6" fill="#ff0000"/>
<rect x="190.00" y="113.70" width="7.6" height="7.6" fill="#ff0000"/>
<rect x="192.50" y="132.50" width="7.6" height="7.6" fill="#ff0000"/>
<rect x="193.70" y="122.50" width="7.6" height="7.6" fill="#ff0000"/>
<rect x="200.00" y="96.20" width="7.6" height="7.6" fill="#ff0000"/>
<rect x="206.70" y="96.20" width="7.6" height="7.6" fill="#ff0000"/>
<rect x="202.50" y="105.00" width="7.6" height="7.6" fill="#ff0000"/>
<rect x="201.20" y="112.50" width="7.6" height="7.6" fill="#ff0000"/>
<rect x="172.50" y="102.50" width="7.6" height="7.6" fill="#ff0000"/>
<rect x="176.20" y="120.20" width="7.6" height="7.6" fill="#ff0000"/>
<rect x="160.20" y="139.20" width="7.6" height="7.6" fill="#ff0000"/>
<rect x="185.20" y="124.20" width="7.6" height="7.6" fill="#ff0000"/>
<rect x="167.20" y="117.70" width="7.6" height="7.6" fill="#ff0000"/>
<rect x="171.70" y="121.70" width="7.6" height="7.6" fill="#ff0000"/>
<rect x="166.70" y="133.20" width="7.6" height="7.6" fill="#ff0000"/>
<rect x="170.70" y="140.20" width="7.6" height="7.6" fill="#ff0000"/>
<rect x="174.70" y="129.70" width="7.6" height="7.6" fill="#ff0000"/>
<rect x="165.70" y="109.70" width="7.6" height="7.6" fill="#ff0000"/>
<rect x="221.20" y="110.00" width="7.6" height="7.6" fill="#ff0000"/>
<rect x="218.70" y="123.70" width="7.6" height="7.6" fill="#ff0000"/>
<rect x="226.20" y="123.70" width="7.6" height="7.6" fill="#ff0000"/>
<rect x="230.00" y="125.00" width="7.6" height="7.6" fill="#ff0000"/>
<rect x="236.20" y="120.70" width="7.6" height="7.6" fill="#ff0000"/>
<rect x="235.00" y="135.00" width="7.6" height="7.6" fill="#ff0000"/>
<rect x="238.70" y="145.00" width="7.6" height="7.6" fill="#ff0000"/>
<rect x="246.20" y="120.00" width="7.6" height="7.6" fill="#ff0000"/>
<rect x="251.70" y="117.50" width="7.6" height="7.6" fill="#ff0000"/>
<rect x="260.00" y="111.20" width="7.6" height="7.6" fill="#ff0000"/>
<rect x="260.00" y="128.70" width="7.6" height="7.6" fill="#ff0000"/>
<rect x="283.70" y="120.00" width="7.6" height="7.6" fill="#ff0000"/>
<rect x="288.70" y="111.20" width="7.6" height="7.6" fill="#ff0000"/>
<rect x="285.00" y="135.00" width="7.6" height="7.6" fill="#ff0000"/>
<rect x="299.50" y="121.20" width="7.6" height="7.6" fill="#ff0000"/>
<rect x="299.50" y="126.70" width="7.6" height="7.6" fill="#ff0000"/>
<rect x="364.7" y="13.4" width="8" height="8" fill="#ff0000"/>
<text x="377.00" y="23.20" font-family='"Liberation Serif", serif' font-size="16.5" font-weight="bold" fill="#ff0000" stroke="#ff0000" stroke-width="0.9" stroke-linejoin="round" textLength="11.6" lengthAdjust="spacingAndGlyphs">W</text>
<text x="389.20" y="23.20" font-family='"Liberation Serif", serif' font-size="16.5" font-weight="bold" fill="#ff0000" stroke="#ff0000" stroke-width="0.5" stroke-linejoin="round" textLength="9.6" lengthAdjust="spacingAndGlyphs">T</text>
<text x="415.00" y="23.20" font-family='"Liberation Serif", serif' font-size="16" fill="#ff0000" stroke="#ff0000" stroke-width="0.7" stroke-linejoin="round" letter-spacing="1.20" textLength="43.7" lengthAdjust="spacingAndGlyphs">data</text>
<circle cx="368" cy="38.6" r="4.3" fill="none" stroke="#000" stroke-width="1.25"/>
<text x="377.00" y="44.40" font-family='"Liberation Serif", serif' font-size="16.5" font-weight="bold" fill="#000" stroke="#000" stroke-width="0.55" stroke-linejoin="round" letter-spacing="1.24" textLength="25.2" lengthAdjust="spacingAndGlyphs">PC</text>
<text x="414.50" y="44.40" font-family='"Liberation Serif", serif' font-size="16" fill="#000" stroke="#000" stroke-width="0.7" stroke-linejoin="round" letter-spacing="1.20" textLength="44.2" lengthAdjust="spacingAndGlyphs">data</text>
<text x="33.00" y="22.75" font-family='"Liberation Sans", sans-serif' font-size="16" fill="#000" textLength="25.0" lengthAdjust="spacingAndGlyphs">1.4</text>
<text x="33.00" y="84.35" font-family='"Liberation Sans", sans-serif' font-size="16" fill="#000" textLength="25.0" lengthAdjust="spacingAndGlyphs">1.6</text>
<text x="33.00" y="145.35" font-family='"Liberation Sans", sans-serif' font-size="16" fill="#000" textLength="25.0" lengthAdjust="spacingAndGlyphs">1.8</text>
<text x="48.50" y="206.55" font-family='"Liberation Sans", sans-serif' font-size="16" fill="#000" textLength="9.5" lengthAdjust="spacingAndGlyphs">2</text>
<text x="172.00" y="237.55" font-family='"Liberation Sans", sans-serif' font-size="16" fill="#000" textLength="9.5" lengthAdjust="spacingAndGlyphs">5</text>
<text x="359.50" y="237.55" font-family='"Liberation Sans", sans-serif' font-size="16" fill="#000" textLength="19.7" lengthAdjust="spacingAndGlyphs">10</text>
<text x="551.80" y="237.55" font-family='"Liberation Sans", sans-serif' font-size="16" fill="#000" textLength="19.4" lengthAdjust="spacingAndGlyphs">15</text>
<text x="561.30" y="205.80" font-family='"Liberation Serif", serif' font-size="20.5" fill="#000" stroke="#000" stroke-width="1.2" stroke-linejoin="round" textLength="5.5" lengthAdjust="spacingAndGlyphs">(</text>
<text x="570.00" y="206.00" font-family='"Liberation Serif", serif' font-size="18.5" fill="#000" stroke="#000" stroke-width="0.7" stroke-linejoin="round" textLength="9.8" lengthAdjust="spacingAndGlyphs">a</text>
<text x="583.70" y="205.80" font-family='"Liberation Serif", serif' font-size="20.5" fill="#000" stroke="#000" stroke-width="1.2" stroke-linejoin="round" textLength="5.5" lengthAdjust="spacingAndGlyphs">)</text>
<g transform="translate(25.2,0) rotate(-90)">
<text x="-172.80" y="0.00" font-family='"Liberation Serif", serif' font-size="19.5" fill="#000" stroke="#000" stroke-width="0.7" stroke-linejoin="round" letter-spacing="1.46" textLength="71.7" lengthAdjust="spacingAndGlyphs">Photon</text>
<text x="-90.00" y="0.00" font-family='"Liberation Serif", serif' font-size="19.5" fill="#000" stroke="#000" stroke-width="0.7" stroke-linejoin="round" letter-spacing="1.46" textLength="56.0" lengthAdjust="spacingAndGlyphs">Index</text>
</g>
<text x="184.50" y="262.00" font-family='"Liberation Serif", serif' font-size="17" fill="#000" stroke="#000" stroke-width="0.7" stroke-linejoin="round" letter-spacing="1.27" textLength="43.1" lengthAdjust="spacingAndGlyphs">Flux</text>
<text x="229.00" y="266.70" font-family='"Liberation Sans", sans-serif' font-size="10.3" font-weight="bold" fill="#000" stroke="#000" stroke-width="0.35" stroke-linejoin="round" letter-spacing="0.77" textLength="31.3" lengthAdjust="spacingAndGlyphs">2&#8722;10</text>
<text x="266.00" y="266.70" font-family='"Liberation Sans", sans-serif' font-size="10.3" font-weight="bold" fill="#000" stroke="#000" stroke-width="0.35" stroke-linejoin="round" letter-spacing="0.77" textLength="21.1" lengthAdjust="spacingAndGlyphs">keV</text>
<path d="M305.50,246.80 H300.15 V265.10 H305.50" fill="none" stroke="#000" stroke-width="1.3"/>
<line x1="300.35" y1="246.20" x2="300.35" y2="265.70" stroke="#000" stroke-width="1.9"/>
<text x="308.70" y="262.00" font-family='"Liberation Serif", serif' font-size="16" fill="#000" stroke="#000" stroke-width="0.7" stroke-linejoin="round" letter-spacing="1.20" textLength="22.7" lengthAdjust="spacingAndGlyphs">10</text>
<text x="331.70" y="256.90" font-family='"Liberation Sans", sans-serif' font-size="8" font-weight="bold" fill="#000" stroke="#000" stroke-width="0.3" stroke-linejoin="round" textLength="21.6" lengthAdjust="spacingAndGlyphs">&#8722;11</text>
<text x="366.00" y="262.00" font-family='"Liberation Serif", serif' font-size="17.5" fill="#000" stroke="#000" stroke-width="0.7" stroke-linejoin="round" letter-spacing="1.31" textLength="33.0" lengthAdjust="spacingAndGlyphs">erg</text>
<text x="410.00" y="262.00" font-family='"Liberation Serif", serif' font-size="17.5" fill="#000" stroke="#000" stroke-width="0.7" stroke-linejoin="round" letter-spacing="1.31" textLength="27.3" lengthAdjust="spacingAndGlyphs">cm</text>
<text x="441.30" y="256.90" font-family='"Liberation Sans", sans-serif' font-size="8" font-weight="bold" fill="#000" stroke="#000" stroke-width="0.3" stroke-linejoin="round" textLength="13.7" lengthAdjust="spacingAndGlyphs">&#8722;2</text>
<text x="466.50" y="262.00" font-family='"Liberation Serif", serif' font-size="17.5" fill="#000" stroke="#000" stroke-width="0.7" stroke-linejoin="round" textLength="9.7" lengthAdjust="spacingAndGlyphs">s</text>
<text x="479.00" y="256.90" font-family='"Liberation Sans", sans-serif' font-size="8" font-weight="bold" fill="#000" stroke="#000" stroke-width="0.3" stroke-linejoin="round" textLength="12.0" lengthAdjust="spacingAndGlyphs">&#8722;1</text>
<path d="M493.40,246.80 H498.75 V265.10 H493.40" fill="none" stroke="#000" stroke-width="1.3"/>
<line x1="498.55" y1="246.20" x2="498.55" y2="265.70" stroke="#000" stroke-width="1.9"/>
<rect x="66.0" y="276.6" width="533.0" height="191.29999999999995" fill="none" stroke="#000" stroke-width="1.4"/>
<line x1="73.20" y1="467.90" x2="73.20" y2="463.60" stroke="#000" stroke-width="1.4"/>
<line x1="73.20" y1="276.60" x2="73.20" y2="280.90" stroke="#000" stroke-width="1.4"/>
<line x1="113.60" y1="467.90" x2="113.60" y2="463.60" stroke="#000" stroke-width="1.4"/>
<line x1="113.60" y1="276.60" x2="113.60" y2="280.90" stroke="#000" stroke-width="1.4"/>
<line x1="154.00" y1="467.90" x2="154.00" y2="459.10" stroke="#000" stroke-width="1.4"/>
<line x1="154.00" y1="276.60" x2="154.00" y2="285.40" stroke="#000" stroke-width="1.4"/>
<line x1="194.40" y1="467.90" x2="194.40" y2="463.60" stroke="#000" stroke-width="1.4"/>
<line x1="194.40" y1="276.60" x2="194.40" y2="280.90" stroke="#000" stroke-width="1.4"/>
<line x1="234.80" y1="467.90" x2="234.80" y2="463.60" stroke="#000" stroke-width="1.4"/>
<line x1="234.80" y1="276.60" x2="234.80" y2="280.90" stroke="#000" stroke-width="1.4"/>
<line x1="275.20" y1="467.90" x2="275.20" y2="463.60" stroke="#000" stroke-width="1.4"/>
<line x1="275.20" y1="276.60" x2="275.20" y2="280.90" stroke="#000" stroke-width="1.4"/>
<line x1="315.60" y1="467.90" x2="315.60" y2="463.60" stroke="#000" stroke-width="1.4"/>
<line x1="315.60" y1="276.60" x2="315.60" y2="280.90" stroke="#000" stroke-width="1.4"/>
<line x1="356.00" y1="467.90" x2="356.00" y2="459.10" stroke="#000" stroke-width="1.4"/>
<line x1="356.00" y1="276.60" x2="356.00" y2="285.40" stroke="#000" stroke-width="1.4"/>
<line x1="396.40" y1="467.90" x2="396.40" y2="463.60" stroke="#000" stroke-width="1.4"/>
<line x1="396.40" y1="276.60" x2="396.40" y2="280.90" stroke="#000" stroke-width="1.4"/>
<line x1="436.80" y1="467.90" x2="436.80" y2="463.60" stroke="#000" stroke-width="1.4"/>
<line x1="436.80" y1="276.60" x2="436.80" y2="280.90" stroke="#000" stroke-width="1.4"/>
<line x1="477.20" y1="467.90" x2="477.20" y2="463.60" stroke="#000" stroke-width="1.4"/>
<line x1="477.20" y1="276.60" x2="477.20" y2="280.90" stroke="#000" stroke-width="1.4"/>
<line x1="517.60" y1="467.90" x2="517.60" y2="463.60" stroke="#000" stroke-width="1.4"/>
<line x1="517.60" y1="276.60" x2="517.60" y2="280.90" stroke="#000" stroke-width="1.4"/>
<line x1="558.00" y1="467.90" x2="558.00" y2="459.10" stroke="#000" stroke-width="1.4"/>
<line x1="558.00" y1="276.60" x2="558.00" y2="285.40" stroke="#000" stroke-width="1.4"/>
<line x1="598.40" y1="467.90" x2="598.40" y2="463.60" stroke="#000" stroke-width="1.4"/>
<line x1="598.40" y1="276.60" x2="598.40" y2="280.90" stroke="#000" stroke-width="1.4"/>
<line x1="66.00" y1="461.70" x2="70.30" y2="461.70" stroke="#000" stroke-width="1.4"/>
<line x1="599.00" y1="461.70" x2="594.70" y2="461.70" stroke="#000" stroke-width="1.4"/>
<line x1="66.00" y1="452.80" x2="74.80" y2="452.80" stroke="#000" stroke-width="1.4"/>
<line x1="599.00" y1="452.80" x2="590.20" y2="452.80" stroke="#000" stroke-width="1.4"/>
<line x1="66.00" y1="443.90" x2="70.30" y2="443.90" stroke="#000" stroke-width="1.4"/>
<line x1="599.00" y1="443.90" x2="594.70" y2="443.90" stroke="#000" stroke-width="1.4"/>
<line x1="66.00" y1="435.00" x2="70.30" y2="435.00" stroke="#000" stroke-width="1.4"/>
<line x1="599.00" y1="435.00" x2="594.70" y2="435.00" stroke="#000" stroke-width="1.4"/>
<line x1="66.00" y1="426.10" x2="70.30" y2="426.10" stroke="#000" stroke-width="1.4"/>
<line x1="599.00" y1="426.10" x2="594.70" y2="426.10" stroke="#000" stroke-width="1.4"/>
<line x1="66.00" y1="417.20" x2="74.80" y2="417.20" stroke="#000" stroke-width="1.4"/>
<line x1="599.00" y1="417.20" x2="590.20" y2="417.20" stroke="#000" stroke-width="1.4"/>
<line x1="66.00" y1="408.30" x2="70.30" y2="408.30" stroke="#000" stroke-width="1.4"/>
<line x1="599.00" y1="408.30" x2="594.70" y2="408.30" stroke="#000" stroke-width="1.4"/>
<line x1="66.00" y1="399.40" x2="70.30" y2="399.40" stroke="#000" stroke-width="1.4"/>
<line x1="599.00" y1="399.40" x2="594.70" y2="399.40" stroke="#000" stroke-width="1.4"/>
<line x1="66.00" y1="390.50" x2="70.30" y2="390.50" stroke="#000" stroke-width="1.4"/>
<line x1="599.00" y1="390.50" x2="594.70" y2="390.50" stroke="#000" stroke-width="1.4"/>
<line x1="66.00" y1="381.60" x2="74.80" y2="381.60" stroke="#000" stroke-width="1.4"/>
<line x1="599.00" y1="381.60" x2="590.20" y2="381.60" stroke="#000" stroke-width="1.4"/>
<line x1="66.00" y1="372.70" x2="70.30" y2="372.70" stroke="#000" stroke-width="1.4"/>
<line x1="599.00" y1="372.70" x2="594.70" y2="372.70" stroke="#000" stroke-width="1.4"/>
<line x1="66.00" y1="363.80" x2="70.30" y2="363.80" stroke="#000" stroke-width="1.4"/>
<line x1="599.00" y1="363.80" x2="594.70" y2="363.80" stroke="#000" stroke-width="1.4"/>
<line x1="66.00" y1="354.90" x2="70.30" y2="354.90" stroke="#000" stroke-width="1.4"/>
<line x1="599.00" y1="354.90" x2="594.70" y2="354.90" stroke="#000" stroke-width="1.4"/>
<line x1="66.00" y1="346.00" x2="74.80" y2="346.00" stroke="#000" stroke-width="1.4"/>
<line x1="599.00" y1="346.00" x2="590.20" y2="346.00" stroke="#000" stroke-width="1.4"/>
<line x1="66.00" y1="337.10" x2="70.30" y2="337.10" stroke="#000" stroke-width="1.4"/>
<line x1="599.00" y1="337.10" x2="594.70" y2="337.10" stroke="#000" stroke-width="1.4"/>
<line x1="66.00" y1="328.20" x2="70.30" y2="328.20" stroke="#000" stroke-width="1.4"/>
<line x1="599.00" y1="328.20" x2="594.70" y2="328.20" stroke="#000" stroke-width="1.4"/>
<line x1="66.00" y1="319.30" x2="70.30" y2="319.30" stroke="#000" stroke-width="1.4"/>
<line x1="599.00" y1="319.30" x2="594.70" y2="319.30" stroke="#000" stroke-width="1.4"/>
<line x1="66.00" y1="310.40" x2="74.80" y2="310.40" stroke="#000" stroke-width="1.4"/>
<line x1="599.00" y1="310.40" x2="590.20" y2="310.40" stroke="#000" stroke-width="1.4"/>
<line x1="66.00" y1="301.50" x2="70.30" y2="301.50" stroke="#000" stroke-width="1.4"/>
<line x1="599.00" y1="301.50" x2="594.70" y2="301.50" stroke="#000" stroke-width="1.4"/>
<line x1="66.00" y1="292.60" x2="70.30" y2="292.60" stroke="#000" stroke-width="1.4"/>
<line x1="599.00" y1="292.60" x2="594.70" y2="292.60" stroke="#000" stroke-width="1.4"/>
<line x1="66.00" y1="283.70" x2="70.30" y2="283.70" stroke="#000" stroke-width="1.4"/>
<line x1="599.00" y1="283.70" x2="594.70" y2="283.70" stroke="#000" stroke-width="1.4"/>
<line x1="140.7" y1="446.5" x2="140.7" y2="467" stroke="#222" stroke-width="1.4" stroke-dasharray="1.4 2.7"/>
<line x1="288.4" y1="446.5" x2="288.4" y2="467" stroke="#222" stroke-width="1.4" stroke-dasharray="1.4 2.7"/>
<line x1="435.6" y1="446.5" x2="435.6" y2="467" stroke="#222" stroke-width="1.4" stroke-dasharray="1.4 2.7"/>
<circle cx="121.3" cy="398.7" r="6.6" fill="#fff" stroke="#000" stroke-width="1.1"/>
<circle cx="121.3" cy="398.7" r="5.15" fill="#0000ff"/>
<circle cx="130.7" cy="408.0" r="6.6" fill="#fff" stroke="#000" stroke-width="1.1"/>
<circle cx="130.7" cy="408.0" r="5.15" fill="#0000ff"/>
<circle cx="202.0" cy="408.0" r="6.6" fill="#fff" stroke="#000" stroke-width="1.1"/>
<circle cx="202.0" cy="408.0" r="5.15" fill="#0000ff"/>
<circle cx="230.0" cy="428.5" r="6.6" fill="#fff" stroke="#000" stroke-width="1.1"/>
<circle cx="230.0" cy="428.5" r="5.15" fill="#0000ff"/>
<circle cx="424.0" cy="345.5" r="6.6" fill="#fff" stroke="#000" stroke-width="1.1"/>
<circle cx="424.0" cy="345.5" r="5.15" fill="#0000ff"/>
<circle cx="566.0" cy="295.5" r="6.6" fill="#fff" stroke="#000" stroke-width="1.1"/>
<circle cx="566.0" cy="295.5" r="5.15" fill="#0000ff"/>
<text x="127.20" y="391.30" font-family='"Liberation Serif", serif' font-size="16" font-weight="bold" text-anchor="middle" fill="#000">1</text>
<text x="136.60" y="400.60" font-family='"Liberation Serif", serif' font-size="16" font-weight="bold" text-anchor="middle" fill="#000">1</text>
<text x="207.90" y="400.60" font-family='"Liberation Serif", serif' font-size="16" font-weight="bold" text-anchor="middle" fill="#000">1</text>
<text x="235.90" y="421.10" font-family='"Liberation Serif", serif' font-size="16" font-weight="bold" text-anchor="middle" fill="#000">1</text>
<text x="423.85" y="339.00" font-family='"Liberation Serif", serif' font-size="16" fill="#000" stroke="#000" stroke-width="0.6" textLength="10.7" lengthAdjust="spacingAndGlyphs">2</text>
<text x="565.85" y="289.00" font-family='"Liberation Serif", serif' font-size="16" fill="#000" stroke="#000" stroke-width="0.6" textLength="10.7" lengthAdjust="spacingAndGlyphs">3</text>
<text x="99.40" y="297.70" font-family='"Liberation Serif", serif' font-size="16" font-weight="bold" text-anchor="middle" fill="#000">1</text>
<text x="114.70" y="297.70" font-family='"Liberation Serif", serif' font-size="15" fill="#000" stroke="#000" stroke-width="0.7" stroke-linejoin="round" textLength="9.6" lengthAdjust="spacingAndGlyphs">&#8211;</text>
<text x="137.50" y="297.70" font-family='"Liberation Serif", serif' font-size="15" fill="#000" stroke="#000" stroke-width="0.7" stroke-linejoin="round" letter-spacing="1.12" textLength="97.4" lengthAdjust="spacingAndGlyphs">Vercellone</text>
<text x="244.20" y="297.70" font-family='"Liberation Serif", serif' font-size="15" fill="#000" stroke="#000" stroke-width="0.7" stroke-linejoin="round" letter-spacing="1.12" textLength="41.4" lengthAdjust="spacingAndGlyphs">2010</text>
<text x="94.05" y="316.00" font-family='"Liberation Serif", serif' font-size="16" fill="#000" stroke="#000" stroke-width="0.6" textLength="10.7" lengthAdjust="spacingAndGlyphs">2</text>
<text x="114.70" y="316.00" font-family='"Liberation Serif", serif' font-size="15" fill="#000" stroke="#000" stroke-width="0.7" stroke-linejoin="round" textLength="9.6" lengthAdjust="spacingAndGlyphs">&#8211;</text>
<text x="137.50" y="316.00" font-family='"Liberation Serif", serif' font-size="15" fill="#000" stroke="#000" stroke-width="0.7" stroke-linejoin="round" letter-spacing="1.12" textLength="65.9" lengthAdjust="spacingAndGlyphs">Striani</text>
<text x="211.00" y="316.00" font-family='"Liberation Serif", serif' font-size="15" fill="#000" stroke="#000" stroke-width="0.7" stroke-linejoin="round" letter-spacing="1.12" textLength="41.4" lengthAdjust="spacingAndGlyphs">2010</text>
<text x="94.05" y="333.30" font-family='"Liberation Serif", serif' font-size="16" fill="#000" stroke="#000" stroke-width="0.6" textLength="10.7" lengthAdjust="spacingAndGlyphs">3</text>
<text x="114.70" y="333.30" font-family='"Liberation Serif", serif' font-size="15" fill="#000" stroke="#000" stroke-width="0.7" stroke-linejoin="round" textLength="9.6" lengthAdjust="spacingAndGlyphs">&#8211;</text>
<text x="137.50" y="333.30" font-family='"Liberation Serif", serif' font-size="15" fill="#000" stroke="#000" stroke-width="0.7" stroke-linejoin="round" letter-spacing="1.12" textLength="37.9" lengthAdjust="spacingAndGlyphs">This</text>
<text x="184.70" y="333.30" font-family='"Liberation Serif", serif' font-size="15" fill="#000" stroke="#000" stroke-width="0.7" stroke-linejoin="round" letter-spacing="1.12" textLength="43.2" lengthAdjust="spacingAndGlyphs">Work</text>
<text x="86.00" y="466.40" font-family='"Liberation Serif", serif' font-size="14" fill="#000" stroke="#000" stroke-width="0.7" stroke-linejoin="round" letter-spacing="1.05" textLength="43.4" lengthAdjust="spacingAndGlyphs">2007</text>
<text x="195.00" y="466.40" font-family='"Liberation Serif", serif' font-size="14" fill="#000" stroke="#000" stroke-width="0.7" stroke-linejoin="round" letter-spacing="1.05" textLength="43.4" lengthAdjust="spacingAndGlyphs">2008</text>
<text x="337.50" y="466.40" font-family='"Liberation Serif", serif' font-size="14" fill="#000" stroke="#000" stroke-width="0.7" stroke-linejoin="round" letter-spacing="1.05" textLength="43.4" lengthAdjust="spacingAndGlyphs">2009</text>
<text x="485.00" y="466.40" font-family='"Liberation Serif", serif' font-size="14" fill="#000" stroke="#000" stroke-width="0.7" stroke-linejoin="round" letter-spacing="1.05" textLength="43.3" lengthAdjust="spacingAndGlyphs">2010</text>
<text x="39.00" y="315.75" font-family='"Liberation Sans", sans-serif' font-size="16" fill="#000" textLength="19.5" lengthAdjust="spacingAndGlyphs">10</text>
<text x="48.70" y="351.25" font-family='"Liberation Sans", sans-serif' font-size="16" fill="#000" textLength="9.5" lengthAdjust="spacingAndGlyphs">8</text>
<text x="48.70" y="386.65" font-family='"Liberation Sans", sans-serif' font-size="16" fill="#000" textLength="9.5" lengthAdjust="spacingAndGlyphs">6</text>
<text x="48.70" y="422.45" font-family='"Liberation Sans", sans-serif' font-size="16" fill="#000" textLength="9.5" lengthAdjust="spacingAndGlyphs">4</text>
<text x="48.70" y="458.25" font-family='"Liberation Sans", sans-serif' font-size="16" fill="#000" textLength="9.5" lengthAdjust="spacingAndGlyphs">2</text>
<text x="128.00" y="490.25" font-family='"Liberation Sans", sans-serif' font-size="16" fill="#000" textLength="52.4" lengthAdjust="spacingAndGlyphs">54500</text>
<text x="329.90" y="490.25" font-family='"Liberation Sans", sans-serif' font-size="16" fill="#000" textLength="52.4" lengthAdjust="spacingAndGlyphs">55000</text>
<text x="531.80" y="490.25" font-family='"Liberation Sans", sans-serif' font-size="16" fill="#000" textLength="52.4" lengthAdjust="spacingAndGlyphs">55500</text>
<text x="563.80" y="448.60" font-family='"Liberation Serif", serif' font-size="20.5" fill="#000" stroke="#000" stroke-width="1.2" stroke-linejoin="round" textLength="5.7" lengthAdjust="spacingAndGlyphs">(</text>
<text x="572.80" y="448.60" font-family='"Liberation Serif", serif' font-size="18.5" fill="#000" stroke="#000" stroke-width="0.7" stroke-linejoin="round" textLength="10.4" lengthAdjust="spacingAndGlyphs">b</text>
<text x="585.50" y="448.60" font-family='"Liberation Serif", serif' font-size="20.5" fill="#000" stroke="#000" stroke-width="1.2" stroke-linejoin="round" textLength="5.7" lengthAdjust="spacingAndGlyphs">)</text>
<text x="279.20" y="513.20" font-family='"Liberation Serif", serif' font-size="17" fill="#000" stroke="#000" stroke-width="0.7" stroke-linejoin="round" letter-spacing="1.27" textLength="49.1" lengthAdjust="spacingAndGlyphs">Time</text>
<path d="M345.60,499.10 H340.25 V516.40 H345.60" fill="none" stroke="#000" stroke-width="1.3"/>
<line x1="340.45" y1="498.50" x2="340.45" y2="517.00" stroke="#000" stroke-width="1.9"/>
<text x="347.60" y="513.20" font-family='"Liberation Serif", serif' font-size="16.5" fill="#000" stroke="#000" stroke-width="0.7" stroke-linejoin="round" letter-spacing="1.24" textLength="39.6" lengthAdjust="spacingAndGlyphs">MJD</text>
<path d="M387.60,499.10 H392.95 V516.40 H387.60" fill="none" stroke="#000" stroke-width="1.3"/>
<line x1="392.75" y1="498.50" x2="392.75" y2="517.00" stroke="#000" stroke-width="1.9"/>
<g transform="translate(22.3,0) rotate(-90)">
<text x="-411.00" y="0.00" font-family='"Liberation Serif", serif' font-size="18.3" fill="#000" stroke="#000" stroke-width="0.7" stroke-linejoin="round" textLength="11.0" lengthAdjust="spacingAndGlyphs">F</text>
<text x="-398.80" y="-4.60" font-family='"Liberation Serif", serif' font-size="10.5" fill="#000" stroke="#000" stroke-width="0.6" stroke-linejoin="round" textLength="6.8" lengthAdjust="spacingAndGlyphs">&#947;</text>
<text x="-399.30" y="6.60" font-family='"Liberation Serif", serif' font-size="11" font-weight="bold" fill="#000" stroke="#000" stroke-width="0.3" stroke-linejoin="round" letter-spacing="0.82" textLength="21.7" lengthAdjust="spacingAndGlyphs">high</text>
<line x1="-372.8" y1="3.8" x2="-360.2" y2="-13.9" stroke="#000" stroke-width="1.9"/>
<text x="-359.30" y="0.00" font-family='"Liberation Serif", serif' font-size="18.3" fill="#000" stroke="#000" stroke-width="0.7" stroke-linejoin="round" textLength="10.3" lengthAdjust="spacingAndGlyphs">F</text>
<text x="-347.80" y="-4.60" font-family='"Liberation Serif", serif' font-size="10.5" fill="#000" stroke="#000" stroke-width="0.6" stroke-linejoin="round" textLength="6.8" lengthAdjust="spacingAndGlyphs">&#947;</text>
<text x="-346.50" y="6.60" font-family='"Liberation Serif", serif' font-size="11" font-weight="bold" fill="#000" stroke="#000" stroke-width="0.3" stroke-linejoin="round" letter-spacing="0.82" textLength="19.3" lengthAdjust="spacingAndGlyphs">low</text>
</g>
<rect x="66.0" y="523.5" width="533.0" height="191.79999999999995" fill="none" stroke="#000" stroke-width="1.4"/>
<line x1="82.00" y1="715.30" x2="82.00" y2="711.00" stroke="#000" stroke-width="1.4"/>
<line x1="82.00" y1="523.50" x2="82.00" y2="527.80" stroke="#000" stroke-width="1.4"/>
<line x1="119.10" y1="715.30" x2="119.10" y2="711.00" stroke="#000" stroke-width="1.4"/>
<line x1="119.10" y1="523.50" x2="119.10" y2="527.80" stroke="#000" stroke-width="1.4"/>
<line x1="156.20" y1="715.30" x2="156.20" y2="711.00" stroke="#000" stroke-width="1.4"/>
<line x1="156.20" y1="523.50" x2="156.20" y2="527.80" stroke="#000" stroke-width="1.4"/>
<line x1="193.30" y1="715.30" x2="193.30" y2="711.00" stroke="#000" stroke-width="1.4"/>
<line x1="193.30" y1="523.50" x2="193.30" y2="527.80" stroke="#000" stroke-width="1.4"/>
<line x1="230.40" y1="715.30" x2="230.40" y2="706.50" stroke="#000" stroke-width="1.4"/>
<line x1="230.40" y1="523.50" x2="230.40" y2="532.30" stroke="#000" stroke-width="1.4"/>
<line x1="267.50" y1="715.30" x2="267.50" y2="711.00" stroke="#000" stroke-width="1.4"/>
<line x1="267.50" y1="523.50" x2="267.50" y2="527.80" stroke="#000" stroke-width="1.4"/>
<line x1="304.60" y1="715.30" x2="304.60" y2="711.00" stroke="#000" stroke-width="1.4"/>
<line x1="304.60" y1="523.50" x2="304.60" y2="527.80" stroke="#000" stroke-width="1.4"/>
<line x1="341.70" y1="715.30" x2="341.70" y2="711.00" stroke="#000" stroke-width="1.4"/>
<line x1="341.70" y1="523.50" x2="341.70" y2="527.80" stroke="#000" stroke-width="1.4"/>
<line x1="378.80" y1="715.30" x2="378.80" y2="711.00" stroke="#000" stroke-width="1.4"/>
<line x1="378.80" y1="523.50" x2="378.80" y2="527.80" stroke="#000" stroke-width="1.4"/>
<line x1="415.90" y1="715.30" x2="415.90" y2="706.50" stroke="#000" stroke-width="1.4"/>
<line x1="415.90" y1="523.50" x2="415.90" y2="532.30" stroke="#000" stroke-width="1.4"/>
<line x1="453.00" y1="715.30" x2="453.00" y2="711.00" stroke="#000" stroke-width="1.4"/>
<line x1="453.00" y1="523.50" x2="453.00" y2="527.80" stroke="#000" stroke-width="1.4"/>
<line x1="490.10" y1="715.30" x2="490.10" y2="711.00" stroke="#000" stroke-width="1.4"/>
<line x1="490.10" y1="523.50" x2="490.10" y2="527.80" stroke="#000" stroke-width="1.4"/>
<line x1="527.20" y1="715.30" x2="527.20" y2="711.00" stroke="#000" stroke-width="1.4"/>
<line x1="527.20" y1="523.50" x2="527.20" y2="527.80" stroke="#000" stroke-width="1.4"/>
<line x1="564.30" y1="715.30" x2="564.30" y2="711.00" stroke="#000" stroke-width="1.4"/>
<line x1="564.30" y1="523.50" x2="564.30" y2="527.80" stroke="#000" stroke-width="1.4"/>
<line x1="66.00" y1="708.86" x2="70.30" y2="708.86" stroke="#000" stroke-width="1.4"/>
<line x1="599.00" y1="708.86" x2="594.70" y2="708.86" stroke="#000" stroke-width="1.4"/>
<line x1="66.00" y1="695.62" x2="70.30" y2="695.62" stroke="#000" stroke-width="1.4"/>
<line x1="599.00" y1="695.62" x2="594.70" y2="695.62" stroke="#000" stroke-width="1.4"/>
<line x1="66.00" y1="682.38" x2="70.30" y2="682.38" stroke="#000" stroke-width="1.4"/>
<line x1="599.00" y1="682.38" x2="594.70" y2="682.38" stroke="#000" stroke-width="1.4"/>
<line x1="66.00" y1="669.14" x2="70.30" y2="669.14" stroke="#000" stroke-width="1.4"/>
<line x1="599.00" y1="669.14" x2="594.70" y2="669.14" stroke="#000" stroke-width="1.4"/>
<line x1="66.00" y1="655.90" x2="74.80" y2="655.90" stroke="#000" stroke-width="1.4"/>
<line x1="599.00" y1="655.90" x2="590.20" y2="655.90" stroke="#000" stroke-width="1.4"/>
<line x1="66.00" y1="642.66" x2="70.30" y2="642.66" stroke="#000" stroke-width="1.4"/>
<line x1="599.00" y1="642.66" x2="594.70" y2="642.66" stroke="#000" stroke-width="1.4"/>
<line x1="66.00" y1="629.42" x2="70.30" y2="629.42" stroke="#000" stroke-width="1.4"/>
<line x1="599.00" y1="629.42" x2="594.70" y2="629.42" stroke="#000" stroke-width="1.4"/>
<line x1="66.00" y1="616.18" x2="70.30" y2="616.18" stroke="#000" stroke-width="1.4"/>
<line x1="599.00" y1="616.18" x2="594.70" y2="616.18" stroke="#000" stroke-width="1.4"/>
<line x1="66.00" y1="602.94" x2="70.30" y2="602.94" stroke="#000" stroke-width="1.4"/>
<line x1="599.00" y1="602.94" x2="594.70" y2="602.94" stroke="#000" stroke-width="1.4"/>
<line x1="66.00" y1="589.70" x2="74.80" y2="589.70" stroke="#000" stroke-width="1.4"/>
<line x1="599.00" y1="589.70" x2="590.20" y2="589.70" stroke="#000" stroke-width="1.4"/>
<line x1="66.00" y1="576.46" x2="70.30" y2="576.46" stroke="#000" stroke-width="1.4"/>
<line x1="599.00" y1="576.46" x2="594.70" y2="576.46" stroke="#000" stroke-width="1.4"/>
<line x1="66.00" y1="563.22" x2="70.30" y2="563.22" stroke="#000" stroke-width="1.4"/>
<line x1="599.00" y1="563.22" x2="594.70" y2="563.22" stroke="#000" stroke-width="1.4"/>
<line x1="66.00" y1="549.98" x2="70.30" y2="549.98" stroke="#000" stroke-width="1.4"/>
<line x1="599.00" y1="549.98" x2="594.70" y2="549.98" stroke="#000" stroke-width="1.4"/>
<line x1="66.00" y1="536.74" x2="70.30" y2="536.74" stroke="#000" stroke-width="1.4"/>
<line x1="599.00" y1="536.74" x2="594.70" y2="536.74" stroke="#000" stroke-width="1.4"/>
<circle cx="125.7" cy="645.7" r="6.6" fill="#fff" stroke="#000" stroke-width="1.1"/>
<circle cx="125.7" cy="645.7" r="5.15" fill="#0000ff"/>
<circle cx="136.7" cy="661.4" r="6.6" fill="#fff" stroke="#000" stroke-width="1.1"/>
<circle cx="136.7" cy="661.4" r="5.15" fill="#0000ff"/>
<circle cx="161.6" cy="674.6" r="6.6" fill="#fff" stroke="#000" stroke-width="1.1"/>
<circle cx="161.6" cy="674.6" r="5.15" fill="#0000ff"/>
<circle cx="212" cy="575" r="6.6" fill="#fff" stroke="#000" stroke-width="1.1"/>
<circle cx="212" cy="575" r="5.15" fill="#0000ff"/>
<circle cx="287.3" cy="696.7" r="6.6" fill="#fff" stroke="#000" stroke-width="1.1"/>
<circle cx="287.3" cy="696.7" r="5.15" fill="#0000ff"/>
<circle cx="496.7" cy="545.4" r="6.6" fill="#fff" stroke="#000" stroke-width="1.1"/>
<circle cx="496.7" cy="545.4" r="5.15" fill="#0000ff"/>
<rect x="380.7" y="698.1" width="14" height="14" rx="1" fill="#fff" stroke="#000" stroke-width="1.2"/>
<rect x="382.5" y="699.9" width="10.4" height="10.4" fill="#ff0000"/>
<text x="149.40" y="648.40" font-family='"Liberation Serif", serif' font-size="16" font-weight="bold" text-anchor="middle" fill="#000">1</text>
<text x="160.50" y="662.40" font-family='"Liberation Serif", serif' font-size="16" font-weight="bold" text-anchor="middle" fill="#000">1</text>
<text x="184.60" y="676.00" font-family='"Liberation Serif", serif' font-size="16" font-weight="bold" text-anchor="middle" fill="#000">1</text>
<text x="207.05" y="565.00" font-family='"Liberation Serif", serif' font-size="16" fill="#000" stroke="#000" stroke-width="0.6" textLength="10.7" lengthAdjust="spacingAndGlyphs">2</text>
<text x="309.60" y="698.50" font-family='"Liberation Serif", serif' font-size="16" font-weight="bold" text-anchor="middle" fill="#000">1</text>
<text x="514.35" y="548.20" font-family='"Liberation Serif", serif' font-size="16" fill="#000" stroke="#000" stroke-width="0.6" textLength="10.7" lengthAdjust="spacingAndGlyphs">3</text>
<text x="404.95" y="708.70" font-family='"Liberation Serif", serif' font-size="16" fill="#000" stroke="#000" stroke-width="0.6" textLength="10.7" lengthAdjust="spacingAndGlyphs">3</text>
<text x="26.50" y="529.25" font-family='"Liberation Sans", sans-serif' font-size="16" fill="#000" textLength="30.8" lengthAdjust="spacingAndGlyphs">300</text>
<text x="26.50" y="595.05" font-family='"Liberation Sans", sans-serif' font-size="16" fill="#000" textLength="30.8" lengthAdjust="spacingAndGlyphs">200</text>
<text x="26.50" y="661.25" font-family='"Liberation Sans", sans-serif' font-size="16" fill="#000" textLength="30.8" lengthAdjust="spacingAndGlyphs">100</text>
<text x="222.80" y="736.45" font-family='"Liberation Sans", sans-serif' font-size="16" fill="#000" textLength="17.4" lengthAdjust="spacingAndGlyphs">10</text>
<text x="406.80" y="736.45" font-family='"Liberation Sans", sans-serif' font-size="16" fill="#000" textLength="18.2" lengthAdjust="spacingAndGlyphs">20</text>
<text x="566.80" y="700.80" font-family='"Liberation Serif", serif' font-size="20.5" fill="#000" stroke="#000" stroke-width="1.2" stroke-linejoin="round" textLength="5.7" lengthAdjust="spacingAndGlyphs">(</text>
<text x="575.80" y="701.00" font-family='"Liberation Serif", serif' font-size="18.5" fill="#000" stroke="#000" stroke-width="0.7" stroke-linejoin="round" textLength="8.9" lengthAdjust="spacingAndGlyphs">c</text>
<text x="587.80" y="700.80" font-family='"Liberation Serif", serif' font-size="20.5" fill="#000" stroke="#000" stroke-width="1.2" stroke-linejoin="round" textLength="5.5" lengthAdjust="spacingAndGlyphs">)</text>
<text x="296.00" y="757.40" font-family='"Liberation Serif", serif' font-size="14.3" fill="#000" stroke="#000" stroke-width="0.7" stroke-linejoin="round" textLength="10.3" lengthAdjust="spacingAndGlyphs">F</text>
<text x="306.80" y="763.60" font-family='"Liberation Serif", serif' font-size="10.5" fill="#000" stroke="#000" stroke-width="0.6" stroke-linejoin="round" textLength="8.5" lengthAdjust="spacingAndGlyphs">R</text>
<text x="324.20" y="757.40" font-family='"Liberation Serif", serif' font-size="16.5" fill="#000" stroke="#000" stroke-width="0.7" stroke-linejoin="round" textLength="4.6" lengthAdjust="spacingAndGlyphs">[</text>
<text x="331.00" y="757.40" font-family='"Liberation Serif", serif' font-size="14.3" fill="#000" stroke="#000" stroke-width="0.7" stroke-linejoin="round" letter-spacing="1.07" textLength="34.1" lengthAdjust="spacingAndGlyphs">mJy</text>
<text x="368.50" y="757.40" font-family='"Liberation Serif", serif' font-size="16.5" fill="#000" stroke="#000" stroke-width="0.7" stroke-linejoin="round" textLength="4.5" lengthAdjust="spacingAndGlyphs">]</text>
<g transform="translate(13.3,0) rotate(-90)">
<text x="-672.00" y="0.00" font-family='"Liberation Serif", serif' font-size="13.8" fill="#000" stroke="#000" stroke-width="0.7" stroke-linejoin="round" textLength="9.6" lengthAdjust="spacingAndGlyphs">F</text>
<text x="-662.60" y="3.40" font-family='"Liberation Serif", serif' font-size="9.5" fill="#000" stroke="#000" stroke-width="0.6" stroke-linejoin="round" textLength="6.6" lengthAdjust="spacingAndGlyphs">&#947;</text>
<line x1="-655.5" y1="2.4" x2="-645.6" y2="-9.8" stroke="#000" stroke-width="1.6"/>
<text x="-644.80" y="0.00" font-family='"Liberation Serif", serif' font-size="13.8" fill="#000" stroke="#000" stroke-width="0.7" stroke-linejoin="round" textLength="9.4" lengthAdjust="spacingAndGlyphs">F</text>
<text x="-632.60" y="5.80" font-family='"Liberation Serif", serif' font-size="9.5" fill="#000" stroke="#000" stroke-width="0.6" stroke-linejoin="round" textLength="7.0" lengthAdjust="spacingAndGlyphs">R</text>
<text x="-616.00" y="0.60" font-family='"Liberation Serif", serif' font-size="16.5" fill="#000" stroke="#000" stroke-width="0.7" stroke-linejoin="round" textLength="5.0" lengthAdjust="spacingAndGlyphs">[</text>
<text x="-608.30" y="0.00" font-family='"Liberation Serif", serif' font-size="13.8" fill="#000" stroke="#000" stroke-width="0.7" stroke-linejoin="round" letter-spacing="1.03" textLength="14.0" lengthAdjust="spacingAndGlyphs">A.</text>
<text x="-582.20" y="0.00" font-family='"Liberation Serif", serif' font-size="13.8" fill="#000" stroke="#000" stroke-width="0.7" stroke-linejoin="round" letter-spacing="1.03" textLength="18.2" lengthAdjust="spacingAndGlyphs">U.</text>
<text x="-563.30" y="0.60" font-family='"Liberation Serif", serif' font-size="16.5" fill="#000" stroke="#000" stroke-width="0.7" stroke-linejoin="round" textLength="4.6" lengthAdjust="spacingAndGlyphs">]</text>
</g>
</svg>
</body></html>
